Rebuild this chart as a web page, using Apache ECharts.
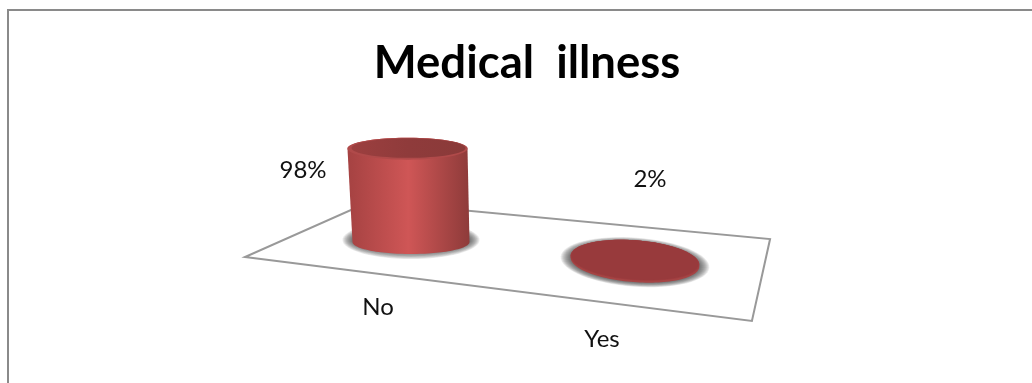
<!DOCTYPE html>
<html>
<head>
<meta charset="utf-8">
<style>html,body{margin:0;padding:0;background:#fff}#c{width:1032px;height:383px}</style>
<script src="https://cdn.jsdelivr.net/npm/echarts@6/dist/echarts.min.js"></script>
</head>
<body>
<div id="c"></div>
<script>
const titleText = 'Medical  illness';
const categories = ['No', 'Yes'];
const percentValues = [98, 2];

const FONT = 'Lato';
const chart = echarts.init(document.getElementById('c'), null, {renderer: 'canvas'});

// Perspective of the chart floor: sheared off the axes
const SHEAR = 0.09, X0 = 411;
function sheared(p) { return [p[0], p[1] + (p[0] - X0) * SHEAR]; }
function ellipsePts(cx, cy, rx, ry, from, to, tilt) {
  const pts = [], n = 64, c = Math.cos(tilt), s = Math.sin(tilt);
  for (let i = 0; i <= n; i++) {
    const a = from + (to - from) * i / n;
    const ex = rx * Math.cos(a), ey = ry * Math.sin(a);
    pts.push([cx + ex * c - ey * s, cy + ex * s + ey * c]);
  }
  return pts;
}

function renderFloor(params, api) {
  const corner = (x, dy) => {
    const p = sheared(api.coord([x, 0]));
    return [p[0], p[1] + dy];
  };
  const pts = [corner(-0.741, 30), corner(1.522, 48.3), corner(1.603, -35.3), corner(-0.183, -36.7)];
  return {
    type: 'polygon', silent: true,
    shape: {points: pts},
    style: {fill: '#fff', stroke: '#999', lineWidth: 2, lineJoin: 'miter'}
  };
}

function renderCyl(params, api) {
  const i = api.value(0), v = api.value(1);
  const base = sheared(api.coord([i, 0]));
  const h = api.coord([i, 0])[1] - api.coord([i, v])[1];
  const k = h / 93;
  const rxB = 58.5 + 6 * i, ryB = 12 + 8 * i;
  const lean = -3.5 * k;
  const cxT = base[0] + lean, cyT = base[1] - h;
  const rxT = rxB + 1.5 * k, ryT = ryB - 1 * k;
  const tilt = i * 0.075;
  const tall = h > 10;
  const side = ellipsePts(base[0], base[1], rxB, ryB, 0, Math.PI, tilt)
    .concat(ellipsePts(cxT, cyT, rxT, ryT, Math.PI, 2 * Math.PI, tilt));
  const sideFill = tall ? new echarts.graphic.LinearGradient(0, 0, 1, 0, [
    {offset: 0, color: '#a54242'}, {offset: 0.5, color: '#cf5656'}, {offset: 1, color: '#8e3b3a'}
  ]) : '#a54444';
  const topFill = new echarts.graphic.LinearGradient(0, 0, 1, 0, [
    {offset: 0, color: '#9c3f3f'}, {offset: 0.5, color: '#8f3b3b'}, {offset: 1, color: '#8a3a39'}
  ]);
  // soft halo on the floor, built from stacked translucent ellipses
  const halo = [];
  for (let n = 10; n >= 1; n--) {
    halo.push({
      type: 'polygon', silent: true,
      shape: {points: ellipsePts(base[0], base[1] - (tall ? 2 : 0), rxB + n, ryB + (tall ? n * 0.7 : n * 0.45), 0, 2 * Math.PI, tilt)},
      style: {fill: 'rgba(60,60,60,0.10)'}
    });
  }
  const body = {type: 'polygon', silent: true, shape: {points: side}, style: {fill: sideFill}};
  const rim = {
    type: 'polygon', silent: true,
    shape: {points: ellipsePts(cxT, cyT, rxT, ryT, 0, 2 * Math.PI, tilt)},
    style: {fill: tall ? '#b04a4a' : '#9e3d3f'}
  };
  const inset = tall ? 3 : 1;
  const cap = {
    type: 'polygon', silent: true,
    shape: {points: ellipsePts(cxT + (tall ? 1 : 0), cyT - (tall ? 0.6 : 0.4), rxT - inset, ryT - inset * 0.4, 0, 2 * Math.PI, tilt)},
    style: {fill: tall ? topFill : '#983a3c'}
  };
  return {type: 'group', children: halo.concat([body, rim, cap])};
}

function renderCatLabel(params, api) {
  const i = api.value(0);
  const p = sheared(api.coord([i, 0]));
  return {
    type: 'text', silent: true, x: p[0] - 33, y: p[1] + 65 + 12 * i,
    style: {text: categories[i], fontFamily: FONT, fontSize: 24, fill: '#111', align: 'center', verticalAlign: 'middle'}
  };
}
function renderValLabel(params, api) {
  const i = api.value(0);
  const p = api.coord([i, 0]);
  return {
    type: 'text', silent: true,
    x: i === 0 ? p[0] - 108 : p[0] + 15, y: p[1] - (i === 0 ? 72 : 63),
    style: {text: api.value(1) + '%', fontFamily: FONT, fontSize: 24, fill: '#111', align: 'center', verticalAlign: 'middle'}
  };
}

const rows = categories.map((c, i) => [i, percentValues[i]]);

chart.setOption({
  animation: false,
  backgroundColor: '#fff',
  title: {
    text: titleText, left: 522, top: 35, textAlign: 'center',
    textStyle: {fontFamily: FONT, fontWeight: 'bold', fontSize: 45.5, color: '#000'}
  },
  graphic: [{
    type: 'polyline', silent: true, z: -1,
    shape: {points: [[8, 383], [8, 10], [1032, 10]]},
    style: {fill: 'none', stroke: '#8a8a8a', lineWidth: 2}
  }],
  grid: {left: 299, width: 448, top: 142, height: 100},
  xAxis: {type: 'value', min: -0.5, max: 1.5, show: false},
  yAxis: {type: 'value', min: 0, max: 105, show: false},
  series: [
    {type: 'custom', z: 1, data: [[0, 0]], renderItem: renderFloor, clip: false},
    {type: 'custom', z: 2, data: rows, encode: {x: 0, y: 1}, renderItem: renderCyl, clip: false},
    {type: 'custom', z: 3, data: rows, encode: {x: 0, y: 1}, renderItem: renderCatLabel, clip: false},
    {type: 'custom', z: 3, data: rows, encode: {x: 0, y: 1}, renderItem: renderValLabel, clip: false}
  ]
});
</script>
</body>
</html>
